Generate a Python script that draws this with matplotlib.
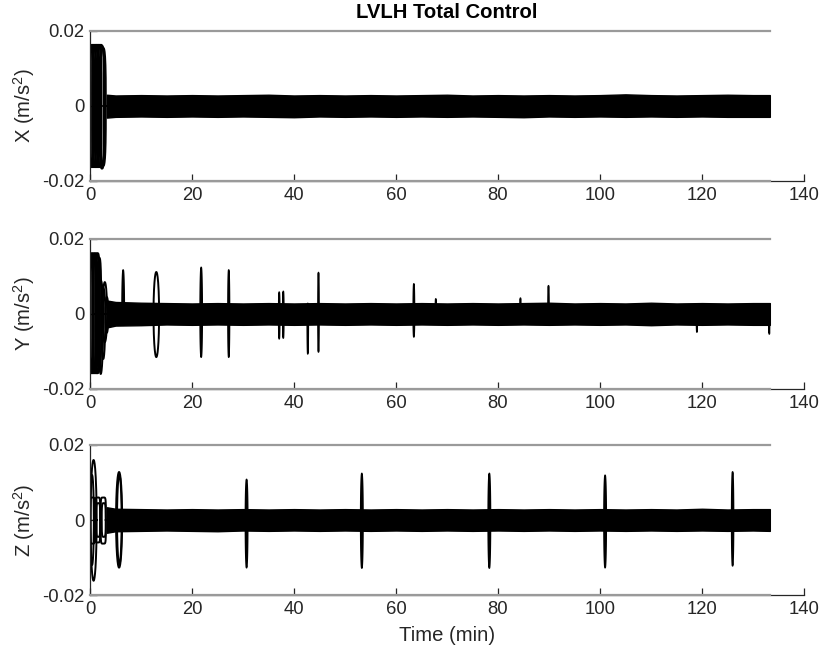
import numpy as np
import matplotlib
matplotlib.use("Agg")
import matplotlib.pyplot as plt

plt.rcParams['font.family'] = ['Liberation Sans', 'DejaVu Sans']
plt.rcParams['mathtext.fontset'] = 'custom'
plt.rcParams['mathtext.rm'] = 'Liberation Sans'
plt.rcParams['mathtext.it'] = 'Liberation Sans:italic'

## data
t_end = 133.3
sat = 0.02
xticks = [0, 20, 40, 60, 80, 100, 120, 140]
yticks = [-0.02, 0, 0.02]
ytick_labels = ['-0.02', '0', '0.02']
ylabels = ['X (m/s$^\\mathrm{2}$)', 'Y (m/s$^\\mathrm{2}$)', 'Z (m/s$^\\mathrm{2}$)']

# noise band envelope (upper / lower) for each axis
band_t = [3.3, 5, 10, 15, 20, 25, 30, 35, 40, 45, 50, 55, 60, 65, 70,
          75, 80, 85, 90, 95, 100, 105, 110, 115, 120, 125, 130, 133.3]
x_up = [0.0030, 0.0028, 0.0029, 0.0028, 0.0029, 0.0028, 0.0029, 0.0030, 0.0028, 0.0029,
        0.0028, 0.0029, 0.0028, 0.0029, 0.0030, 0.0028, 0.0029, 0.0028, 0.0029, 0.0028,
        0.0029, 0.0031, 0.0029, 0.0028, 0.0029, 0.0030, 0.0029, 0.0029]
x_lo = [-0.0031, -0.0029, -0.0028, -0.0029, -0.0028, -0.0029, -0.0028, -0.0029, -0.0030, -0.0028,
        -0.0029, -0.0028, -0.0029, -0.0028, -0.0029, -0.0028, -0.0029, -0.0030, -0.0028, -0.0029,
        -0.0028, -0.0029, -0.0028, -0.0029, -0.0028, -0.0029, -0.0029, -0.0029]
y_up = [0.0036, 0.0032, 0.0030, 0.0029, 0.0028, 0.0029, 0.0028, 0.0029, 0.0028, 0.0029,
        0.0028, 0.0029, 0.0028, 0.0029, 0.0028, 0.0029, 0.0028, 0.0029, 0.0030, 0.0028,
        0.0029, 0.0028, 0.0030, 0.0028, 0.0029, 0.0028, 0.0029, 0.0029]
y_lo = [-0.0036, -0.0031, -0.0030, -0.0028, -0.0029, -0.0028, -0.0029, -0.0028, -0.0029, -0.0028,
        -0.0029, -0.0028, -0.0029, -0.0028, -0.0029, -0.0028, -0.0029, -0.0028, -0.0029, -0.0028,
        -0.0029, -0.0028, -0.0030, -0.0028, -0.0029, -0.0028, -0.0029, -0.0029]
z_up = [0.0034, 0.0030, 0.0029, 0.0028, 0.0029, 0.0028, 0.0029, 0.0028, 0.0029, 0.0028,
        0.0029, 0.0028, 0.0029, 0.0028, 0.0029, 0.0028, 0.0029, 0.0028, 0.0029, 0.0028,
        0.0029, 0.0028, 0.0029, 0.0028, 0.0030, 0.0028, 0.0029, 0.0029]
z_lo = [-0.0034, -0.0030, -0.0029, -0.0028, -0.0029, -0.0030, -0.0028, -0.0029, -0.0028, -0.0029,
        -0.0028, -0.0029, -0.0028, -0.0029, -0.0028, -0.0029, -0.0028, -0.0029, -0.0028, -0.0029,
        -0.0028, -0.0029, -0.0028, -0.0029, -0.0028, -0.0029, -0.0028, -0.0029]

# loops / spikes: centre time, half width (min), top, bottom, shape exponent
x_ev_t = [0.35, 0.6, 0.85, 1.1, 1.35, 1.6, 1.85, 2.1, 2.35, 2.55]
x_ev_w = [0.3, 0.5, 0.4, 0.6, 0.45, 0.55, 0.4, 0.6, 0.5, 0.55]
x_ev_hi = [0.0163, 0.0163, 0.0163, 0.0163, 0.0163, 0.0163, 0.0163, 0.0163, 0.0160, 0.0155]
x_ev_lo = [-0.0163, -0.0163, -0.0163, -0.0163, -0.0163, -0.0163, -0.0163, -0.0160, -0.0167, -0.0160]
x_ev_p = [4, 4, 3, 4, 3, 4, 3, 4, 3, 3]

y_ev_t = [0.3, 0.6, 0.9, 1.2, 1.5, 1.8, 2.1, 2.6, 2.9, 3.3, 6.5, 13.0, 21.8, 27.2, 37.1,
          37.9, 42.7, 44.8, 63.5, 67.8, 84.4, 89.9, 119.0, 133.2]
y_ev_w = [0.3, 0.45, 0.4, 0.5, 0.45, 0.4, 0.5, 0.4, 0.45, 0.3, 0.22, 0.55, 0.2, 0.15, 0.1,
          0.1, 0.1, 0.1, 0.12, 0.08, 0.08, 0.1, 0.08, 0.05]
y_ev_hi = [0.0162, 0.0162, 0.0162, 0.0162, 0.0162, 0.0150, 0.0090, 0.0070, 0.0085, 0.0045,
           0.0117, 0.0112, 0.0124, 0.0117, 0.0058, 0.0060, 0.0028, 0.0110, 0.0080, 0.0040,
           0.0042, 0.0075, 0.0025, 0.0025]
y_ev_lo = [-0.0158, -0.0158, -0.0158, -0.0158, -0.0158, -0.0150, -0.0160, -0.0120, -0.0075,
           -0.0050, -0.0030, -0.0115, -0.0115, -0.0115, -0.0066, -0.0064, -0.0106, -0.0101,
           -0.0061, -0.0025, -0.0025, -0.0025, -0.0048, -0.0053]
y_ev_p = [4, 4, 3, 4, 3, 3, 2, 2, 2, 2, 2, 2, 2, 2, 2, 2, 2, 2, 2, 2, 2, 2, 2, 2]

z_ev_t = [0.7, 0.4, 0.5, 1.5, 1.6, 2.6, 2.7, 5.7, 5.75, 30.7, 53.3, 78.3, 101.0, 126.0]
z_ev_w = [0.6, 0.35, 0.45, 0.5, 0.4, 0.5, 0.4, 0.6, 0.45, 0.22, 0.22, 0.22, 0.22, 0.18]
z_ev_hi = [0.0160, 0.0120, 0.0060, 0.0060, 0.0045, 0.0060, 0.0045, 0.0128, 0.0120,
           0.0108, 0.0124, 0.0124, 0.0119, 0.0128]
z_ev_lo = [-0.0162, -0.0120, -0.0063, -0.0060, -0.0045, -0.0063, -0.0045, -0.0127, -0.0118,
           -0.0127, -0.0128, -0.0128, -0.0127, -0.0122]
z_ev_p = [2, 2, 6, 6, 4, 6, 4, 2, 2, 2, 2, 2, 2, 2]

panels = [
    (x_up, x_lo, x_ev_t, x_ev_w, x_ev_hi, x_ev_lo, x_ev_p),
    (y_up, y_lo, y_ev_t, y_ev_w, y_ev_hi, y_ev_lo, y_ev_p),
    (z_up, z_lo, z_ev_t, z_ev_w, z_ev_hi, z_ev_lo, z_ev_p),
]


def loop(ax, t, w, hi, lo, p):
    th = np.linspace(0, 2 * np.pi, 240)
    c, s = np.cos(th), np.sin(th)
    k = 2.0 / p
    x = t + w * np.sign(c) * np.abs(c) ** k
    y = np.where(s >= 0, hi, lo) * np.abs(s) ** k
    # narrow spikes look solid in the reference
    if w <= 0.25:
        ax.fill(x, y, color='k', lw=1.2)
    else:
        ax.plot(x, y, color='k', lw=1.4)


fig = plt.figure(figsize=(8.22, 6.52), dpi=100)
lefts = 0.1095
width = 0.8686
bottoms = [0.7224, 0.4034, 0.0874]
height = 0.2301
dark = '#262626'

for i, (up, lo, et, ew, ehi, elo, ep) in enumerate(panels):
    ax = fig.add_axes([lefts, bottoms[i], width, height])
    ax.fill_between(band_t, lo, up, color='k', lw=1.0, edgecolor='k')
    for j in range(len(et)):
        loop(ax, et[j], ew[j], ehi[j], elo[j], ep[j])
    ax.plot([0, t_end], [sat, sat], color='#9a9a9a', lw=1.6, zorder=3, clip_on=False)
    ax.plot([0, t_end], [-sat, -sat], color='#9a9a9a', lw=1.6, zorder=3, clip_on=False)

    ax.set_xlim(0, 140)
    ax.set_ylim(-0.02, 0.02)
    ax.set_xticks(xticks)
    ax.set_xticklabels([str(v) for v in xticks])
    ax.set_yticks(yticks)
    ax.set_yticklabels(ytick_labels)
    for side in ['top', 'right']:
        ax.spines[side].set_visible(False)
    for side in ['left', 'bottom']:
        ax.spines[side].set_color(dark)
        ax.spines[side].set_linewidth(0.9)
    ax.tick_params(direction='in', length=5, width=0.9, colors=dark,
                   labelsize=13.3, pad=4)
    ax.set_ylabel(ylabels[i], fontsize=14.6, color=dark, labelpad=4)
    if i == 0:
        ax.set_title('LVLH Total Control', fontsize=14.6, fontweight='bold', pad=9)
    if i == 2:
        ax.set_xlabel('Time (min)', fontsize=14.6, color=dark, labelpad=6)

fig.savefig('out.png', dpi=100)
